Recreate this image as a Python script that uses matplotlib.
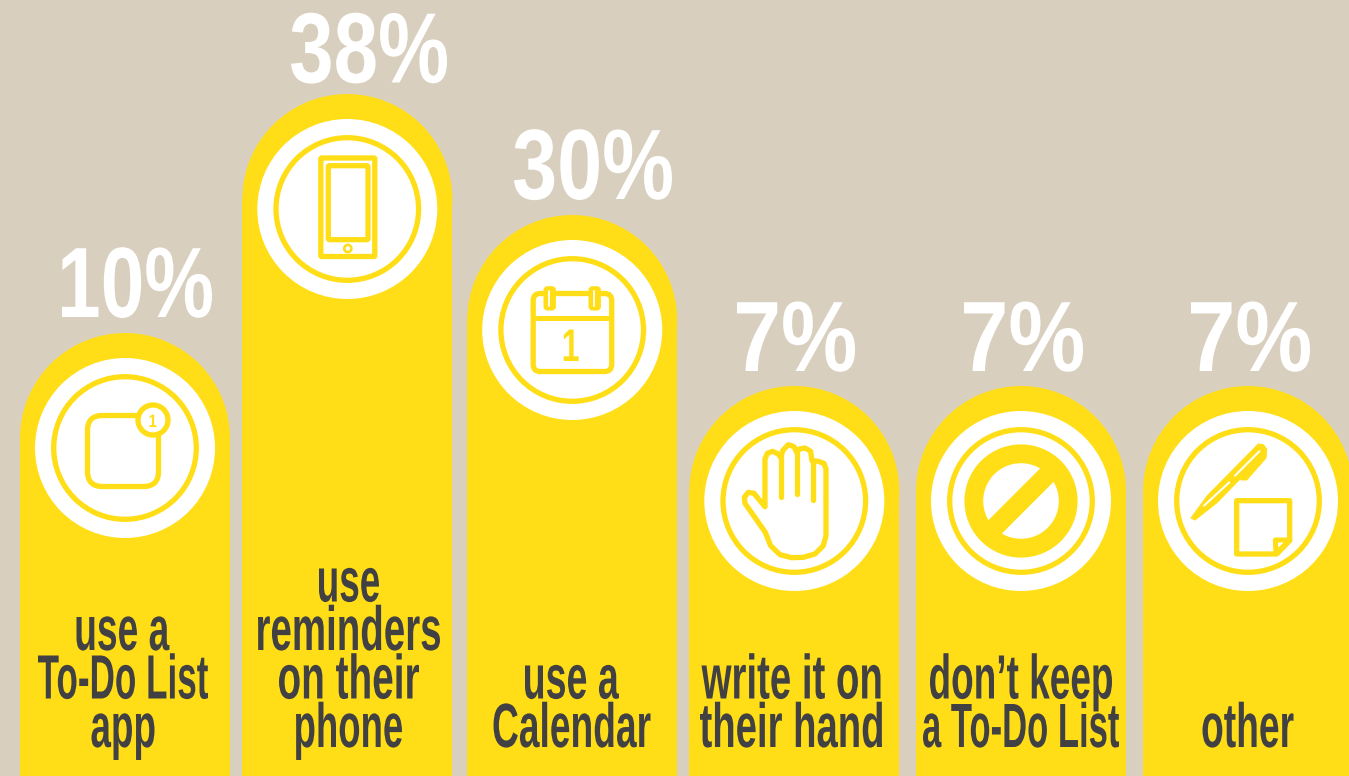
import numpy as np
import matplotlib
matplotlib.use('Agg')
import matplotlib.pyplot as plt
from matplotlib.colors import to_rgba
from matplotlib.patches import Circle, FancyBboxPatch, Polygon, Rectangle
from matplotlib.text import Text
from matplotlib.textpath import TextPath
from matplotlib.transforms import Affine2D, Bbox

# -- data ----------------------------------------------------------------------
pct_labels = ['10%', '38%', '30%', '7%', '7%', '7%']
bar_heights = [443, 682, 561, 390, 390, 390]   # px above the bottom edge
categories = [
    ['use a', 'To-Do List', 'app'],
    ['use', 'reminders', 'on their', 'phone'],
    ['use a', 'Calendar'],
    ['write it on', 'their hand'],
    ['don\u2019t keep', 'a To-Do List'],
    ['other'],
]

# -- layout ---------------------------------------------------------------------
W, H = 1349, 776
bar_x = [125, 347.3, 572.2, 794.3, 1021, 1248]
pct_x = [137, 369, 593, 796, 1023.5, 1250.5]
pct_gap = [16, 11.5, 16, 15, 15, 15]   # baseline of the number above the bar top
pct_w = [150, 156, 158, 118, 119, 119]   # drawn width of each number, px
label_x = [123, 349, 572, 791, 1021, 1248]
label_w = [[93, 170, 63], [60, 182, 140, 106], [94, 157], [179, 182], [182, 196], [91]]
BAR_W = 210
R_CAP = 105
R_WHITE = 90
R_RING = 71.3
LINE_STEP = 48.5
BASELINE = 29

YELLOW = '#FFDE17'
BG = '#D8CFBE'
DARK = '#414042'
WHITE = '#FFFFFF'
FONT = 'Liberation Sans'


def lw(px):
    return px * 0.72


class CondensedText(Text):
    # no condensed face is installed, so squeeze the glyph outlines to a given width
    def __init__(self, *args, width=100, **kwargs):
        super().__init__(*args, **kwargs)
        self.target_w = width

    def _outline(self):
        prop = self.get_fontproperties()
        px = prop.get_size_in_points() * self.get_figure().dpi / 72
        path = TextPath((0, 0), self.get_text(), size=px, prop=prop)
        box = path.get_extents()
        tr = Affine2D().translate(-(box.x0 + box.x1) / 2, 0).scale(self.target_w / box.width, 1)
        return path, tr

    def _get_layout(self, renderer):
        # report the squeezed box so extents agree with what is drawn
        bbox, info, descent = super()._get_layout(renderer)
        path, tr = self._outline()
        return Bbox(path.get_extents(tr).get_points()), info, descent

    def draw(self, renderer):
        if not self.get_visible():
            return
        path, tr = self._outline()
        x, y = self.get_transform().transform(self.get_position())
        gc = renderer.new_gc()
        gc.set_antialiased(True)
        gc.set_linewidth(0)
        renderer.draw_path(gc, path, tr + Affine2D().translate(x, y), rgbFace=to_rgba(self.get_color()))
        gc.restore()


def cond_text(x, y, s, size, width, color, z=6):
    t = CondensedText(x, y, s, width=width, color=color, fontsize=size, fontweight='bold',
                      family=FONT, ha='center', va='baseline', zorder=z)
    ax.add_artist(t)
    return t


fig = plt.figure(figsize=(W / 100, H / 100), dpi=100, facecolor=BG)
ax = fig.add_axes([0, 0, 1, 1])
ax.set_xlim(0, W)
ax.set_ylim(0, H)
ax.axis('off')


def zoom_pts(pts, zc):
    pts = np.array(pts, dtype=float)
    return np.column_stack([(pts[:, 0] - zc[0]) / 3, (zc[1] - pts[:, 1]) / 3])


def ring(c, r, width, face='none', z=4):
    ax.add_patch(Circle(c, r, fc=face, ec=YELLOW, lw=lw(width), zorder=z))


def round_box(x0, y0, x1, y1, rad, face=WHITE, width=5.3, z=4):
    ax.add_patch(FancyBboxPatch((x0 + rad, y0 + rad), x1 - x0 - 2 * rad, y1 - y0 - 2 * rad,
                                boxstyle=f'round,pad={rad},rounding_size={rad}',
                                fc=face, ec=YELLOW, lw=lw(width), zorder=z))


def seg(c, a, b, width=5.3, color=YELLOW, cap='round', z=5):
    ax.plot([c[0] + a[0], c[0] + b[0]], [c[1] + a[1], c[1] + b[1]], color=color,
            lw=lw(width), solid_capstyle=cap, zorder=z)


def icon_app(c):
    round_box(c[0] - 37.5, c[1] - 38.5, c[0] + 33.5, c[1] + 32.5, 15)
    ring((c[0] + 28, c[1] + 28), 15, 5.3, face=WHITE, z=5)
    cond_text(c[0] + 28, c[1] + 21, '1', 13, 7, YELLOW)


def icon_phone(c):
    round_box(c[0] - 26.5, c[1] - 47.5, c[0] + 27.5, c[1] + 51, 1)
    round_box(c[0] - 19, c[1] - 30.7, c[0] + 20.7, c[1] + 43.3, 1.5)
    ring((c[0] + 0.5, c[1] - 39.5), 3.6, 2.6, face=WHITE, z=5)


def icon_calendar(c):
    round_box(c[0] - 39, c[1] - 41.5, c[0] + 39.5, c[1] + 36.5, 7)
    ax.add_patch(Rectangle((c[0] - 39, c[1] + 8.7), 78.5, 5.7, fc=YELLOW, ec='none', zorder=5))
    for dx in (-22.5, 22.5):
        round_box(c[0] + dx - 4.2, c[1] + 21.5, c[0] + dx + 4.2, c[1] + 41.8, 2, face=YELLOW, width=4, z=5)
        seg(c, (dx - 1, 24.5), (dx - 1, 39), width=1.8, color=WHITE, z=6)
    cond_text(c[0] - 1, c[1] - 31, '1', 33, 15, YELLOW)


def icon_hand(c):
    zc = (343, 361)
    outline = [(255, 378), (255, 235), (262, 218), (278, 212), (295, 220), (303, 232),
               (308, 210), (325, 192), (342, 198), (350, 215), (358, 205), (375, 202),
               (392, 212), (396, 240), (415, 242), (432, 248), (438, 265), (438, 465),
               (430, 495), (405, 520), (370, 530), (335, 531), (300, 522), (272, 495),
               (256, 455), (195, 368), (193, 350), (205, 335), (222, 338)]
    ax.add_patch(Polygon(zoom_pts(outline, zc) + np.array(c), closed=True, fc=WHITE, ec=YELLOW,
                         lw=lw(5.3), joinstyle='round', zorder=4))
    for x0, y0, y1 in [(303, 232, 348), (350, 215, 340), (398, 240, 358)]:
        a, b = zoom_pts([(x0, y0), (x0, y1)], zc)
        seg(c, a, b)


def icon_none(c):
    ring(c, 47.2, 18.8)
    seg(c, (-33, -33), (33, 33), width=19, cap='butt')


def icon_other(c):
    zc = (354, 361)
    pen = [(183, 412), (232, 345), (385, 190), (400, 192), (410, 205), (408, 232),
           (350, 298), (335, 298), (330, 295), (262, 365), (195, 418)]
    ax.add_patch(Polygon(zoom_pts(pen, zc) + np.array(c), closed=True, fc=YELLOW, ec=YELLOW,
                         lw=lw(1), joinstyle='round', zorder=4))
    for p, q in [((222, 375), (298, 305)), ((315, 285), (388, 212))]:
        a, b = zoom_pts([p, q], zc)
        seg(c, a, b, width=2, color=WHITE)
    note = [(320, 360), (479, 360), (479, 480), (440, 520), (320, 520)]
    ax.add_patch(Polygon(zoom_pts(note, zc) + np.array(c), closed=True, fc=WHITE, ec=YELLOW,
                         lw=lw(5.3), joinstyle='round', zorder=4))
    fold = [(436, 478), (479, 478), (438, 518)]
    ax.add_patch(Polygon(zoom_pts(fold, zc) + np.array(c), closed=True, fc=WHITE, ec=YELLOW,
                         lw=lw(5), joinstyle='round', zorder=5))


icons = [icon_app, icon_phone, icon_calendar, icon_hand, icon_none, icon_other]

# -- bars -------------------------------------------------------------------------
heights = np.array(bar_heights, dtype=float)
ax.bar(bar_x, heights - R_CAP, width=BAR_W, bottom=0, color=YELLOW, zorder=2)

for i, x in enumerate(bar_x):
    top = bar_heights[i]
    ax.add_patch(Circle((x, top - R_CAP), R_CAP, fc=YELLOW, ec='none', zorder=2))
    c = (x, top - 115)
    ax.add_patch(Circle(c, R_WHITE, fc=WHITE, ec='none', zorder=3))
    ring(c, R_RING, 5.3, z=3.5)
    icons[i](c)

    cond_text(pct_x[i], top + pct_gap[i], pct_labels[i], 72, pct_w[i], WHITE)

    n = len(categories[i])
    for j, line in enumerate(categories[i]):
        cond_text(label_x[i], BASELINE + (n - 1 - j) * LINE_STEP, line, 45, label_w[i][j], DARK)

fig.savefig('out.png', dpi=100, facecolor=BG)
